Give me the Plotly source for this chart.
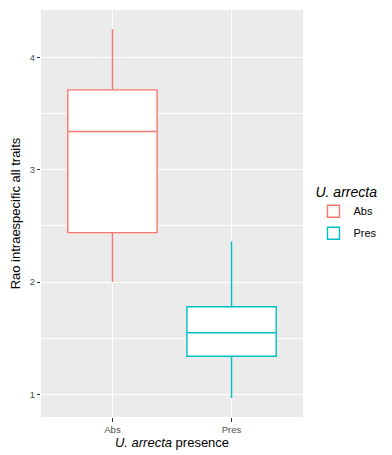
import plotly.graph_objects as go

categories = ["Abs", "Pres"]
colors = ["#F8766D", "#00BFC4"]
lower_fence = [2.00, 0.97]
q1_vals = [2.44, 1.34]
medians = [3.34, 1.55]
q3_vals = [3.71, 1.78]
upper_fence = [4.25, 2.36]

fig = go.Figure()
for i, cat in enumerate(categories):
    fig.add_trace(go.Box(
        x=[cat], q1=[q1_vals[i]], median=[medians[i]], q3=[q3_vals[i]],
        lowerfence=[lower_fence[i]], upperfence=[upper_fence[i]],
        name=cat, width=0.75, whiskerwidth=0, legendgroup=cat,
        fillcolor="white", line=dict(color=colors[i], width=1.4),
        boxpoints=False, hoverinfo="skip",
    ))

fig.update_layout(
    width=392, height=455,
    margin=dict(l=41, r=89, t=10, b=38),
    paper_bgcolor="white", plot_bgcolor="#EBEBEB",
    font=dict(family="Liberation Sans, Arial, sans-serif", color="#000000"),
    boxmode="overlay",
    showlegend=True,
    legend=dict(
        title=dict(text="<i>U. arrecta</i>", font=dict(size=14, color="#000000")),
        x=1.04, xanchor="left", y=0.50, yanchor="middle",
        font=dict(size=11), bgcolor="rgba(0,0,0,0)", tracegroupgap=3,
    ),
    xaxis=dict(
        type="category", range=[-0.6, 1.6],
        showgrid=True, gridcolor="white", gridwidth=1.1,
        ticks="outside", ticklen=4, tickcolor="#333333",
        tickfont=dict(size=9.5, color="#4D4D4D"),
        title=dict(text="<i>U. arrecta</i> presence", font=dict(size=13), standoff=1),
        zeroline=False,
    ),
    yaxis=dict(
        range=[0.8, 4.42], dtick=1, tick0=0,
        showgrid=True, gridcolor="white", gridwidth=1.1,
        minor=dict(dtick=0.5, tick0=0, showgrid=True, gridcolor="white", gridwidth=0.5),
        ticks="outside", ticklen=3, tickcolor="#333333",
        tickfont=dict(size=9.5, color="#4D4D4D"),
        title=dict(text="Rao intraespecific all traits", font=dict(size=13), standoff=6),
        zeroline=False,
    ),
)

fig.write_html("out.html")
